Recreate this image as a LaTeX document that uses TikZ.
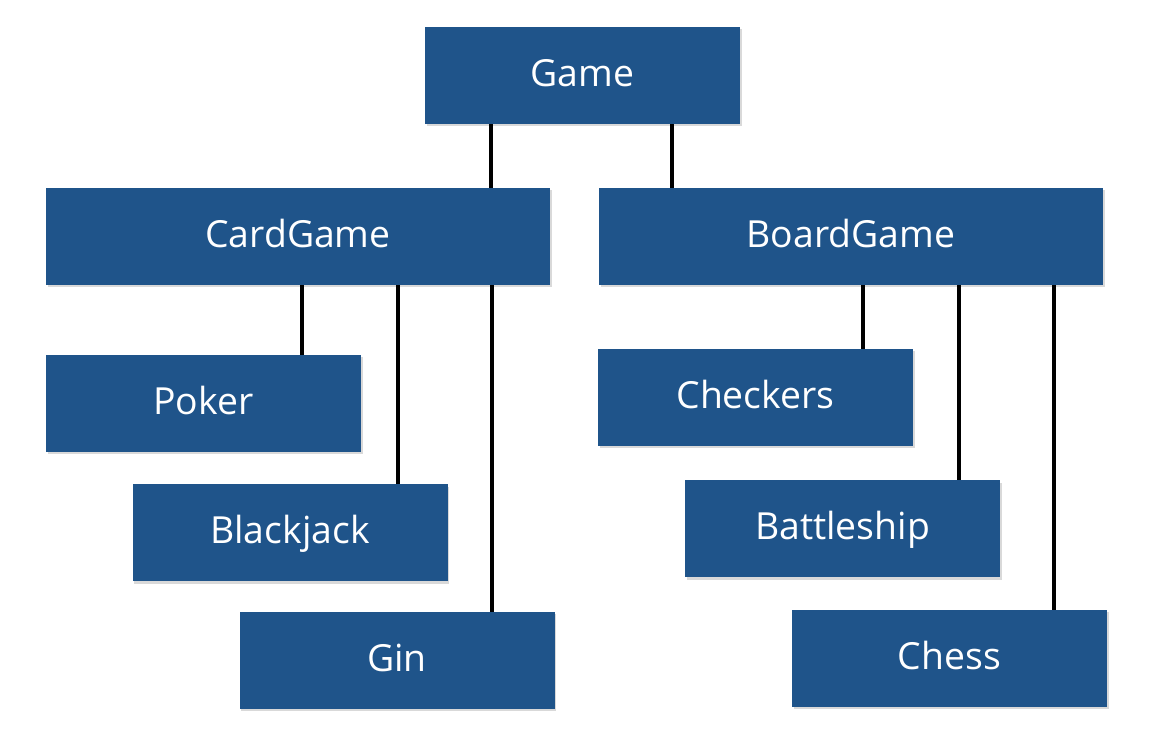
\documentclass[tikz,border=0pt]{standalone}
\usepackage{fontspec}
\setmainfont{Open Sans}
\usetikzlibrary{shadows}
\definecolor{boxblue}{HTML}{1F548A}
\begin{document}
\begin{tikzpicture}[x=0.75pt,y=-0.75pt,
  box/.style={fill=boxblue, draw=none, text=white, font=\fontsize{28}{32}\selectfont,
    minimum height=72.75pt, inner sep=0pt, text height=21pt, text depth=5pt,
    drop shadow={shadow xshift=1.2pt, shadow yshift=-1.8pt, opacity=0.25, fill=black!60}},
  small/.style={box, minimum width=236.25pt},
  wide/.style={box, minimum width=378pt},
  link/.style={line width=3pt, black}]
\useasboundingbox (0,0) rectangle (1154,748);
\node[small] (game) at (582.5,75.5) {Game};
\node[wide] (card) at (298,236.5) {CardGame};
\node[wide] (board) at (851,236.5) {BoardGame};
\node[small] (poker) at (203.5,403.5) {Poker};
\node[small] (black) at (290,533) {Blackjack};
\node[small] (gin) at (397,660.5) {Gin};
\node[small] (check) at (755.5,397.5) {Checkers};
\node[small] (battle) at (842.5,529) {Battleship};
\node[small] (chess) at (949.5,658.5) {Chess};
\draw[link] (game.south -| 491,0) -- (card.north -| 491,0);
\draw[link] (game.south -| 672,0) -- (board.north -| 672,0);
\draw[link] (card.south -| 302,0) -- (poker.north -| 302,0);
\draw[link] (card.south -| 398,0) -- (black.north -| 398,0);
\draw[link] (card.south -| 492,0) -- (gin.north -| 492,0);
\draw[link] (board.south -| 863,0) -- (check.north -| 863,0);
\draw[link] (board.south -| 959,0) -- (battle.north -| 959,0);
\draw[link] (board.south -| 1054,0) -- (chess.north -| 1054,0);
\end{tikzpicture}
\end{document}
